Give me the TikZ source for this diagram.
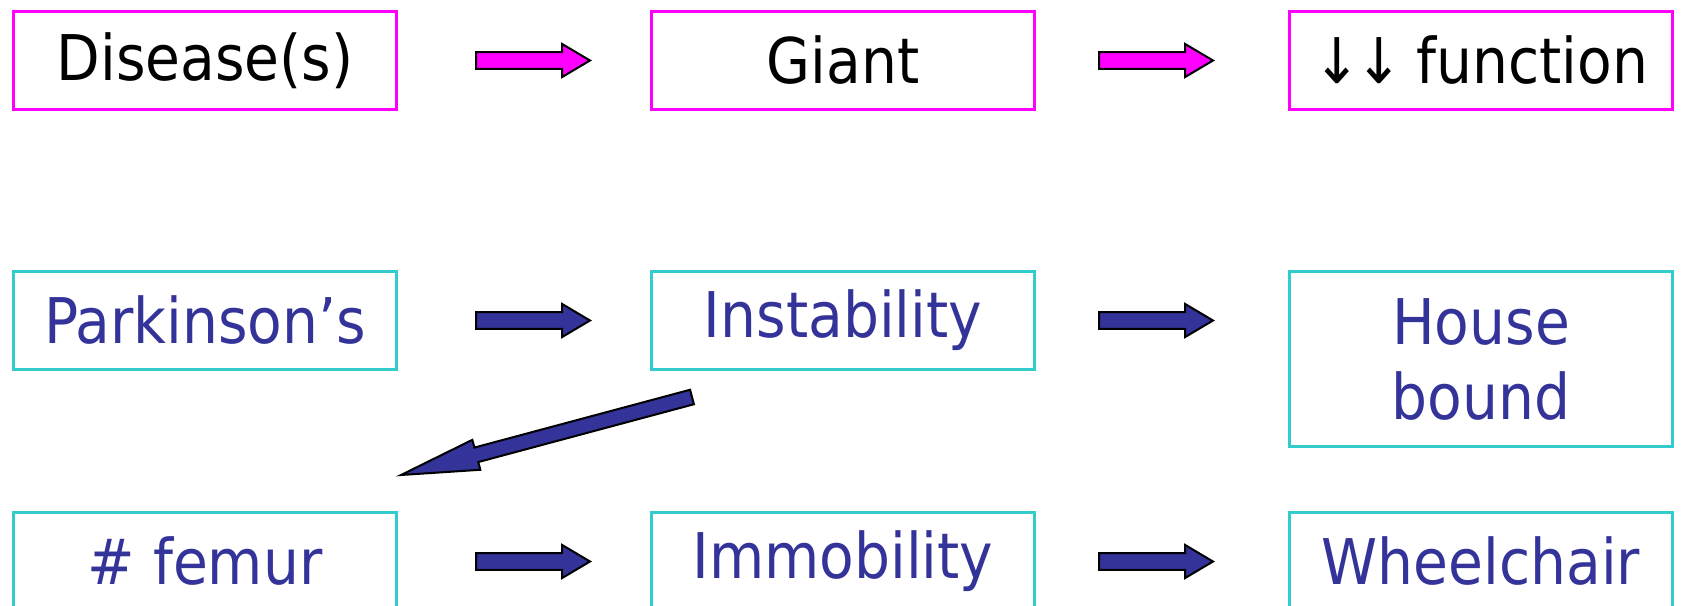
\documentclass[tikz,border=0pt]{standalone}
\usepackage{fontspec}
\setmainfont{DejaVu Sans}[FakeStretch=0.9]
\usetikzlibrary{positioning, calc}

\definecolor{navy}{HTML}{333399}
\definecolor{boxcyan}{HTML}{33CCCC}
\definecolor{pink}{HTML}{FF00FF}

\tikzset{
  box/.style={draw, rectangle, line width=1.5pt, minimum width=191.5pt, minimum height=49pt, inner sep=0pt, align=center, font=\fontsize{31.5pt}{37.5pt}\selectfont},
  pinkbox/.style={box, draw=pink},
  cyanbox/.style={box, draw=boxcyan, text=navy},
  shaft/.store in=\shafthw, head/.store in=\headhw, headlen/.store in=\headl,
  % outlined block arrow between two coordinates
  blockarrow/.style={draw=black, line width=1pt, fill=#1, shaft=4.2pt, head=8.3pt, headlen=14pt,
    to path={($(\tikztostart)!\shafthw!90:(\tikztotarget)$)
      -- ($($(\tikztotarget)!\headl!(\tikztostart)$)!\shafthw!90:(\tikztotarget)$)
      -- ($($(\tikztotarget)!\headl!(\tikztostart)$)!\headhw!90:(\tikztotarget)$)
      -- (\tikztotarget)
      -- ($($(\tikztotarget)!\headl!(\tikztostart)$)!\headhw!-90:(\tikztotarget)$)
      -- ($($(\tikztotarget)!\headl!(\tikztostart)$)!\shafthw!-90:(\tikztotarget)$)
      -- ($(\tikztostart)!\shafthw!-90:(\tikztotarget)$) -- cycle}}
}

\begin{document}
\begin{tikzpicture}[node distance=79.5pt and 126pt]
\useasboundingbox (0,0) rectangle (840.5pt,-302.5pt);
% general chain
\node[pinkbox, anchor=north west] (dis) at (6pt,-5pt) {Disease(s)};
\node[pinkbox, right=of dis] (giant) {Giant};
\node[pinkbox, right=of giant] (func) {↓\kern-3pt↓\kern-2pt{} function};
% example chain
\node[cyanbox, below=of dis] (park) {Parkinson’s};
\node[cyanbox, right=of park] (inst) {Instability};
\node[cyanbox, minimum height=87.5pt, below=of func] (house) {House\\bound};
\node[cyanbox, below=70pt of park] (fem) {\# femur};
\node[cyanbox, right=of fem] (immob) {Immobility};
\node[cyanbox, right=of immob] (wheel) {Wheelchair};

% arrow ends
\coordinate[right=39pt of dis] (a1s); \coordinate[right=57pt of a1s] (a1e);
\coordinate[right=31.5pt of giant] (a2s); \coordinate[right=57pt of a2s] (a2e);
\coordinate[right=39pt of park] (a3s); \coordinate[right=57pt of a3s] (a3e);
\coordinate[right=31.5pt of inst] (a4s); \coordinate[right=57pt of a4s] (a4e);
\coordinate[right=39pt of fem] (a6s); \coordinate[right=57pt of a6s] (a6e);
\coordinate[right=31.5pt of immob] (a7s); \coordinate[right=57pt of a7s] (a7e);
\coordinate (a5s) at ($(inst.south west)+(21pt,-13pt)$);
\coordinate (a5e) at ($(fem.north east)+(1.5pt,18pt)$);

\draw[blockarrow=pink] (a1s) to (a1e);
\draw[blockarrow=pink] (a2s) to (a2e);
\draw[blockarrow=navy] (a3s) to (a3e);
\draw[blockarrow=navy] (a4s) to (a4e);
\draw[blockarrow=navy] (a6s) to (a6e);
\draw[blockarrow=navy] (a7s) to (a7e);
\draw[blockarrow=navy, shaft=3.75pt, head=7.75pt, headlen=39pt] (a5s) to (a5e);
\end{tikzpicture}
\end{document}
